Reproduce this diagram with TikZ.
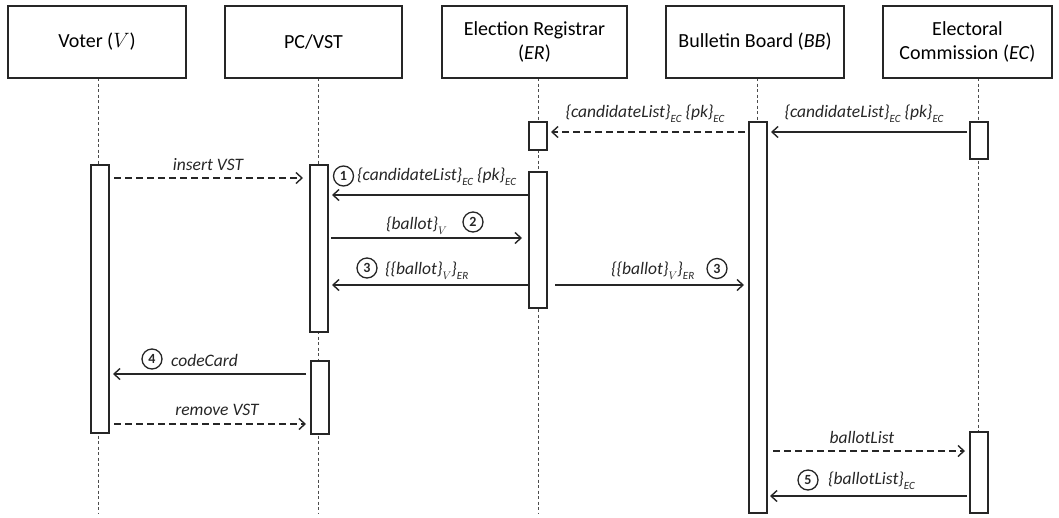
\documentclass[tikz,border=0pt]{standalone}
\usepackage{fontspec}
\setmainfont{Carlito}
\usetikzlibrary{arrows.meta}
\newcommand\sbs[1]{\raisebox{-0.3em}{\fontsize{11}{11}\selectfont #1}}
\newcommand\vv{$V$}
\definecolor{ink}{HTML}{262626}
\tikzset{
  hdr/.style={draw=ink, line width=2pt, fill=white, minimum height=72pt, align=center, inner sep=2pt,
    font=\fontsize{20}{24}\selectfont},
  life/.style={draw=black!70, line width=0.9pt, dash pattern=on 3pt off 2.5pt},
  act/.style={draw=ink, line width=2pt, fill=white, minimum width=18pt, inner sep=0pt},
  msg/.style={draw=ink, line width=1.4pt, -{Straight Barb[length=6pt,width=11pt]}},
  rmsg/.style={msg, dash pattern=on 7pt off 4pt},
  lbl/.style={font=\fontsize{17.5}{20}\selectfont\itshape, inner sep=0pt, text=ink},
  num/.style={draw=ink, circle, line width=1.3pt, minimum size=20pt, inner sep=0pt,
    font=\fontsize{14}{14}\selectfont\bfseries, text=ink}
}
\begin{document}
\begin{tikzpicture}[x=1pt,y=-1pt]
\useasboundingbox (0,0) rectangle (1059,517);
% lifelines
\foreach \n/\x in {v/98, pc/318.5, er/538, bb/757.5, ec/978.5}{
  \coordinate (\n top) at (\x,78);
  \coordinate (\n bot) at (\x,514);
  \draw[life] (\n top) -- (\n bot);
}
% headers
\node[hdr, minimum width=178pt] (hV) at (97,42) {Voter (\vv)};
\node[hdr, minimum width=177pt] (hPC) at (313.5,42) {PC/VST};
\node[hdr, minimum width=185pt] (hER) at (534.5,42) {Election Registrar\\(\textit{ER})};
\node[hdr, minimum width=178pt] (hBB) at (755,42) {Bulletin Board (\textit{BB})};
\node[hdr, minimum width=169pt] (hEC) at (967.5,42) {Electoral\\Commission (\textit{EC})};
% activations
\node[act, minimum height=28pt] (erA1) at (538,136) {};
\node[act, minimum height=391pt] (bbA) at (757.5,317.5) {};
\node[act, minimum height=37pt] (ecA1) at (978.5,140.5) {};
\node[act, minimum height=268pt] (vA) at (99.5,298.5) {};
\node[act, minimum height=167pt] (pcA1) at (318.5,248.5) {};
\node[act, minimum height=136pt] (erA2) at (538,240) {};
\node[act, minimum height=73pt] (pcA2) at (319.5,397.5) {};
\node[act, minimum height=81pt] (ecA2) at (978.5,472.5) {};
% message endpoints
\coordinate (a1s) at (745,132); \coordinate (a1e) at (551,132);
\coordinate (a2s) at (967,132); \coordinate (a2e) at (771,132);
\coordinate (a3s) at (114,178); \coordinate (a3e) at (303,178);
\coordinate (a4s) at (528,195); \coordinate (a4e) at (332,195);
\coordinate (a5s) at (331,238); \coordinate (a5e) at (522,238);
\coordinate (a6s) at (528,285); \coordinate (a6e) at (332,285);
\coordinate (a7s) at (555,285); \coordinate (a7e) at (744,285);
\coordinate (a8s) at (306,374); \coordinate (a8e) at (113,374);
\coordinate (a9s) at (114,424); \coordinate (a9e) at (306,424);
\coordinate (a10s) at (773,451); \coordinate (a10e) at (965,451);
\coordinate (a11s) at (967,496); \coordinate (a11e) at (770,496);
% messages
\draw[rmsg] (a1s) -- (a1e);
\draw[msg] (a2s) -- (a2e);
\draw[rmsg] (a3s) -- (a3e);
\draw[msg] (a4s) -- (a4e);
\draw[msg] (a5s) -- (a5e);
\draw[msg] (a6s) -- (a6e);
\draw[msg] (a7s) -- (a7e);
\draw[msg] (a8s) -- (a8e);
\draw[rmsg] (a9s) -- (a9e);
\draw[rmsg] (a10s) -- (a10e);
\draw[msg] (a11s) -- (a11e);
% labels
\node[lbl] (l1) at (645,114) {\{candidateList\}\sbs{EC} \{pk\}\sbs{EC}};
\node[lbl] (l2) at (864,114) {\{candidateList\}\sbs{EC} \{pk\}\sbs{EC}};
\node[lbl] (l3) at (208,165) {insert VST};
\node[num] (n1) at (343.5,176) {1};
\node[lbl, anchor=west] (l4) at (357,177) {\{candidateList\}\sbs{EC} \{pk\}\sbs{EC}};
\node[lbl, anchor=west] (l5) at (386,226) {\{ballot\}\sbs{\vv}};
\node[num] (n2) at (473,222) {2};
\node[num] (n3) at (367,268) {3};
\node[lbl, anchor=west] (l6) at (385,271) {\{\{ballot\}\sbs{\vv}\}\sbs{ER}};
\node[lbl, anchor=west] (l7) at (611,271) {\{\{ballot\}\sbs{\vv}\}\sbs{ER}};
\node[num] (n3b) at (717,268.5) {3};
\node[num] (n4) at (152,359) {4};
\node[lbl, anchor=west] (l8) at (171,360) {codeCard};
\node[lbl] (l9) at (217,410) {remove VST};
\node[lbl] (l10) at (862,437) {ballotList};
\node[num] (n5) at (808,480) {5};
\node[lbl, anchor=west] (l11) at (828,481) {\{ballotList\}\sbs{EC}};
\end{tikzpicture}
\end{document}
